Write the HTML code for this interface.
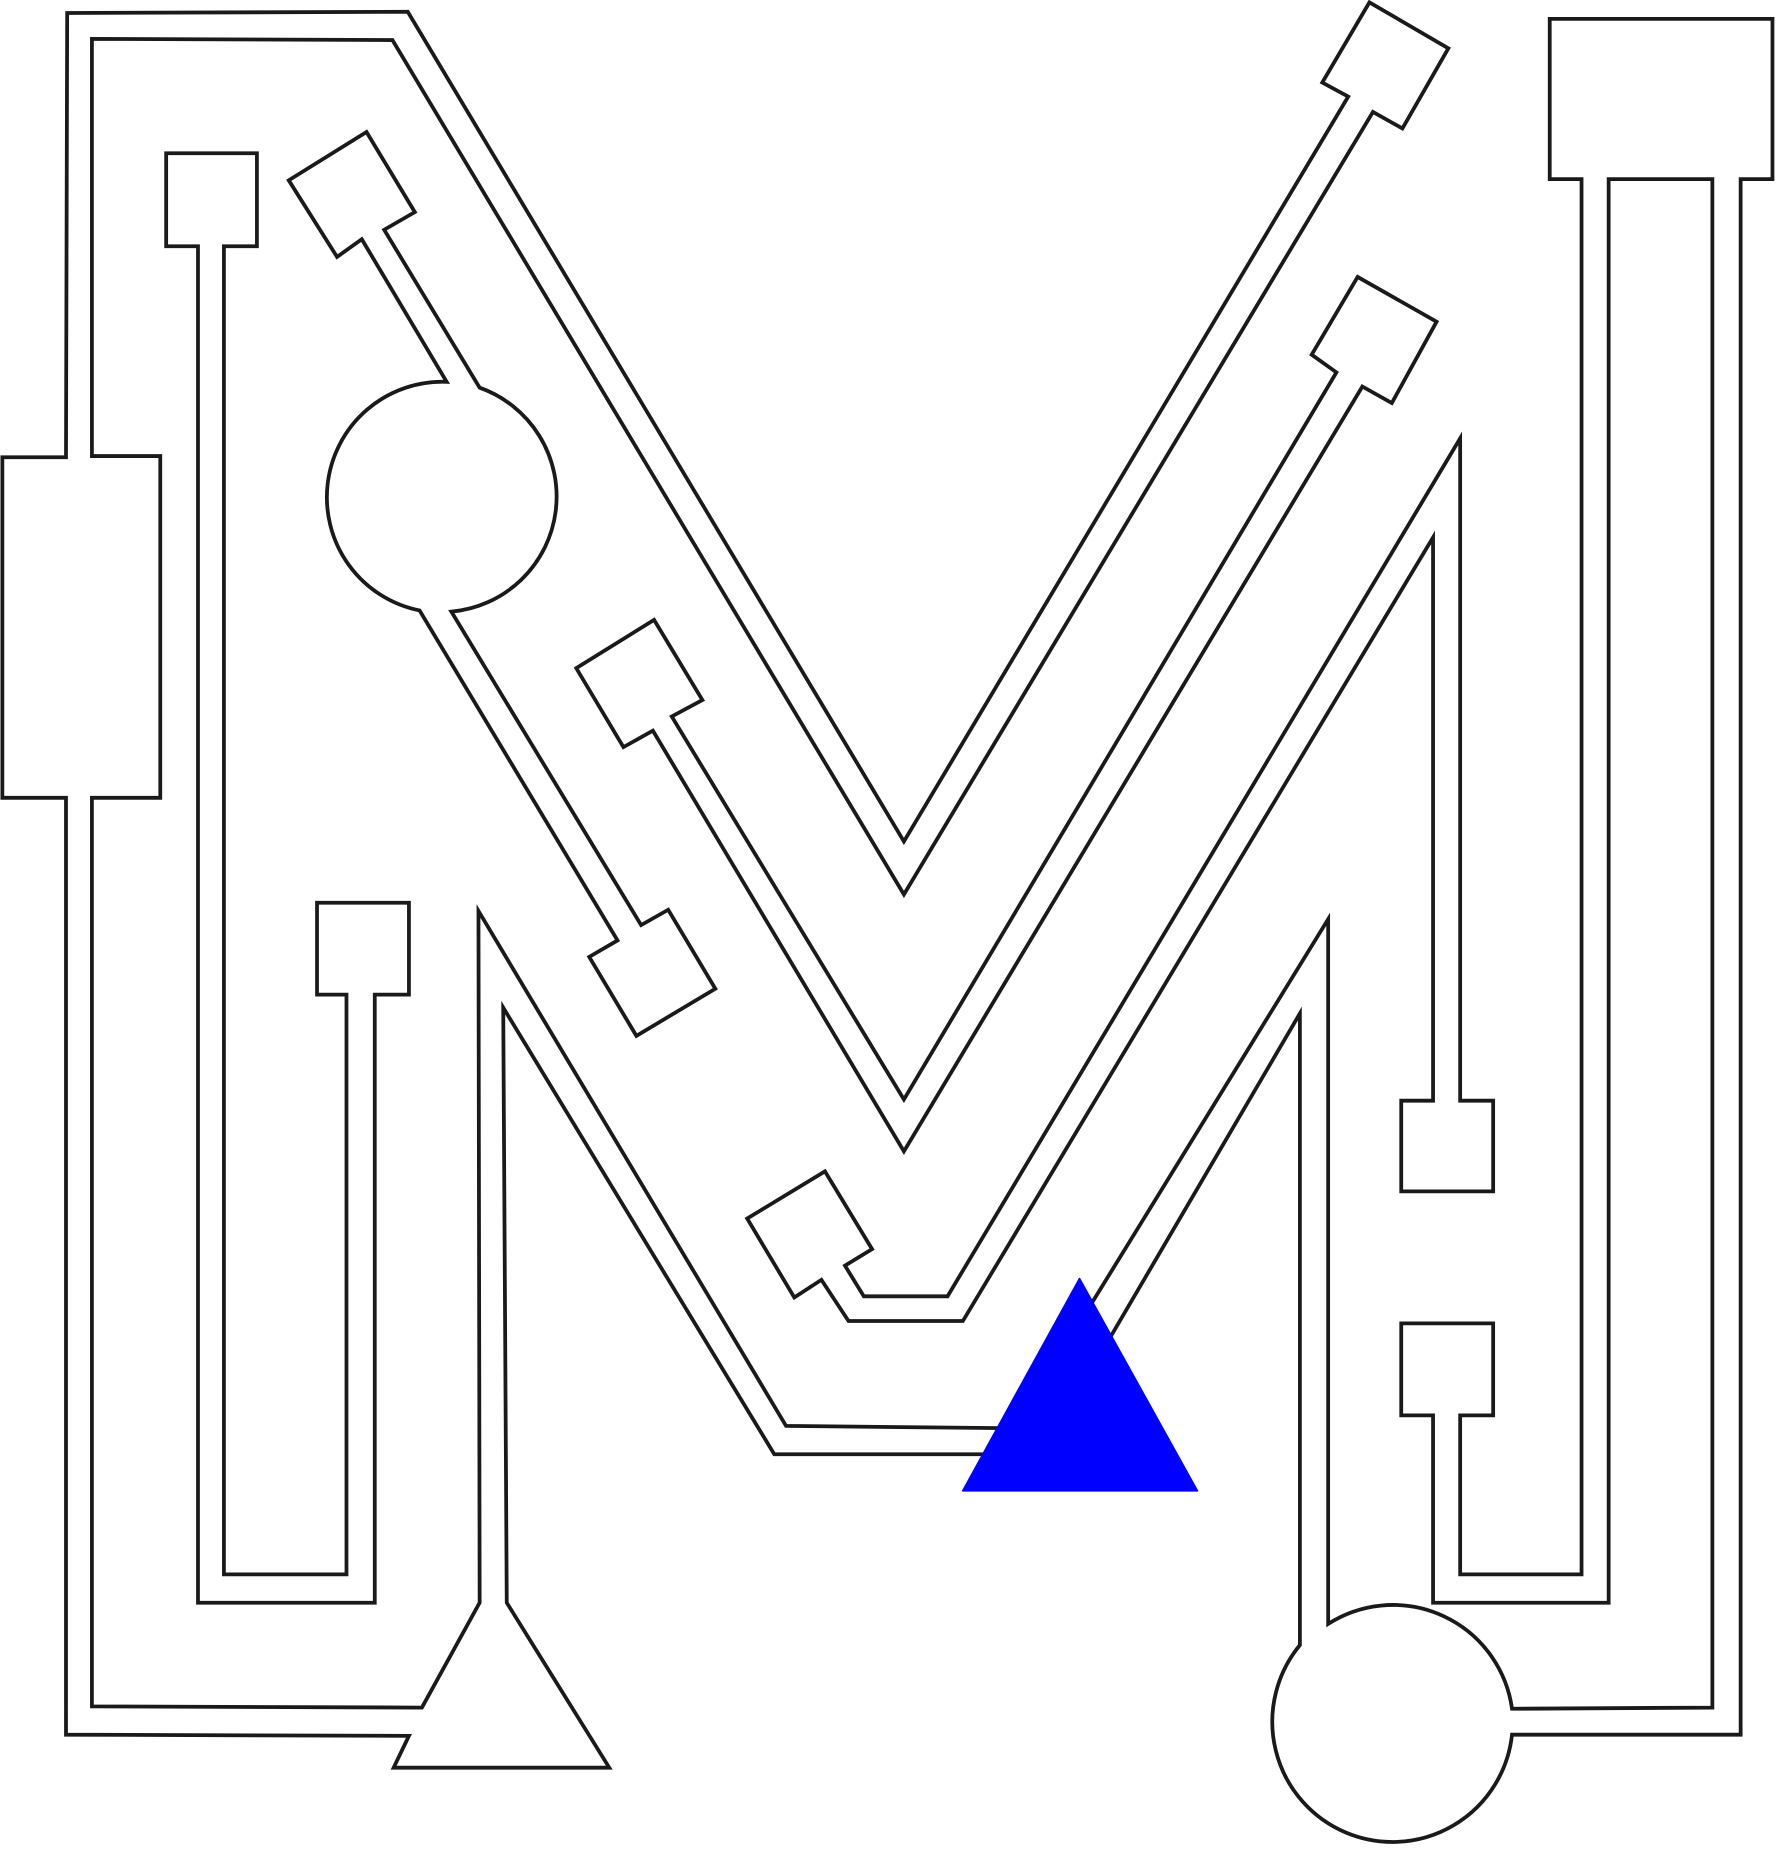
<!DOCTYPE html>
<html>
<head>
<meta charset="utf-8">
<style>
  html,body{margin:0;padding:0;background:#fff;}
  svg{display:block;}
  .ch{fill:none;stroke:#1a1a1a;stroke-width:3.2;stroke-linejoin:miter;}
</style>
</head>
<body>
<svg width="1776" height="1849" viewBox="0 0 1507 1569" preserveAspectRatio="none" xmlns="http://www.w3.org/2000/svg">
  <rect x="0" y="0" width="1507" height="1569" fill="#fff"/>

  <path class="ch"
    d="M57,11 L346,10 L767,714 L1144,82 L1122,70 L1162,2 L1229,41 L1190,109 L1165,95 L767,759 L333,34 L78,33 L78,387 L136,387 L136,677 L78,677 L78,1448 L358,1449 L407,1360 L406,773 L667,1210 L861,1212 L1127,780 L1127,1378 A102,102 0 0 1 1283,1450 L1453,1449 L1453,152 L1365,152 L1365,1360 L1216,1360 L1216,1201 L1189,1201 L1189,1123 L1267,1123 L1267,1201 L1239,1201 L1239,1336 L1342,1336 L1342,152 L1315,152 L1315,16 L1504,16 L1504,152 L1477,152 L1477,1472 L1283,1472 A102,102 0 1 1 1103,1396 L1103,860 L884,1234 L657,1234 L427,855 L430,1360 L517,1500 L334,1500 L347,1473 L56,1472 L56,677 L2,677 L2,388 L56,388 Z"/>

  <path class="ch"
    d="M1239,372 L1239,934 L1267,934 L1267,1011 L1189,1011 L1189,934 L1216,934 L1216,456 L817,1121 L720,1121 L697,1086 L674,1101 L634,1034 L700,994 L740,1060 L717,1074 L733,1100 L804,1100 Z"/>

  <path class="ch"
    d="M1152,235 L1219,273 L1181,342 L1156,328 L767,977 L554,620 L529,634 L489,567 L555,526 L596,594 L570,608 L767,933 L1134,316 L1113,301 Z"/>

  <path class="ch"
    d="M245,153 L311,112 L352,180 L326,195 L407,329 A98,98 0 0 1 383,519 L544,785 L567,772 L607,839 L540,879 L500,812 L524,798 L356,518 A98,98 0 0 1 379,324 L307,203 L286,218 Z"/>

  <path class="ch"
    d="M141,130 L218,130 L218,209 L190,209 L190,1336 L294,1336 L294,844 L269,844 L269,766 L347,766 L347,844 L318,844 L318,1360 L168,1360 L168,209 L141,209 Z"/>

  <polygon points="916,1085 1016,1265 817,1265" fill="#0000ff" stroke="#0000ff" stroke-width="1.5" stroke-linejoin="round"/>
</svg>
</body>
</html>
